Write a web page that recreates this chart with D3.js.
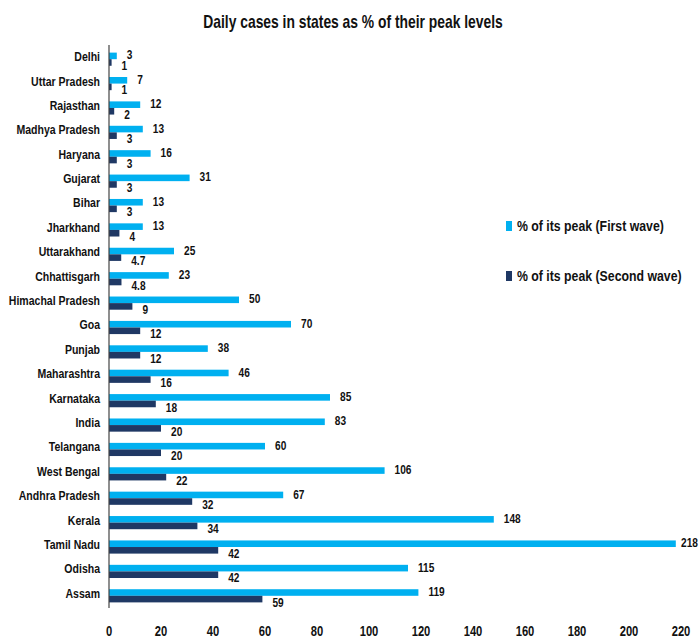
<!DOCTYPE html>
<meta charset="utf-8">
<style>
body { margin: 0; background: #fff; }
text { font-family: "Liberation Sans", Arial, sans-serif; font-weight: bold; fill: #111; }
</style>
<body>
<script src="https://d3js.org/d3.v7.min.js"></script>
<script>

var states = ["Delhi", "Uttar Pradesh", "Rajasthan", "Madhya Pradesh", "Haryana", "Gujarat", "Bihar",
  "Jharkhand", "Uttarakhand", "Chhattisgarh", "Himachal Pradesh", "Goa", "Punjab", "Maharashtra",
  "Karnataka", "India", "Telangana", "West Bengal", "Andhra Pradesh", "Kerala", "Tamil Nadu", "Odisha", "Assam"];
var firstWave = [3, 7, 12, 13, 16, 31, 13, 13, 25, 23, 50, 70, 38, 46, 85, 83, 60, 106, 67, 148, 218, 115, 119];
var secondWave = [1, 1, 2, 3, 3, 3, 3, 4, 4.7, 4.8, 9, 12, 12, 16, 18, 20, 20, 22, 32, 34, 42, 42, 59];
var xTicks = [0, 20, 40, 60, 80, 100, 120, 140, 160, 180, 200, 220];
var seriesNames = ["% of its peak (First wave)", "% of its peak (Second wave)"];
var colors = ["#00b0f0", "#1f3864"];

var width = 700, height = 638;
var margin = {top: 47, left: 109, right: 18, bottom: 30};

var svg = d3.select("body").append("svg")
    .attr("width", width)
    .attr("height", height);

// place a text at (px,py), squeezed horizontally so Arial looks like Calibri
function put(sel, px, py, k) {
  sel.attr("transform", function(d, i) {
    return "translate(" + px(d, i) + "," + py(d, i) + ") scale(" + k + ",1)";
  });
}

// title
svg.append("text")
    .attr("text-anchor", "middle")
    .attr("dy", "0.35em")
    .style("font-size", "18px")
    .text("Daily cases in states as % of their peak levels")
    .call(put, function() { return 353; }, function() { return 22; }, 0.77);

var x = d3.scaleLinear()
    .domain([0, 220])
    .range([margin.left, margin.left + 572]);

var y = d3.scaleBand()
    .domain(states)
    .range([margin.top, 608])
    .paddingInner(0.46)
    .paddingOuter(0.23);

var barH = y.bandwidth() / 2;

var rows = svg.selectAll(".row")
    .data(states)
    .enter().append("g")
    .attr("class", "row")
    .attr("transform", function(d) { return "translate(0," + y(d) + ")"; });

rows.append("rect")
    .attr("x", x(0))
    .attr("y", 0)
    .attr("height", barH)
    .attr("width", function(d, i) { return x(firstWave[i]) - x(0); })
    .attr("fill", colors[0]);

rows.append("rect")
    .attr("x", x(0))
    .attr("y", barH)
    .attr("height", barH)
    .attr("width", function(d, i) { return x(secondWave[i]) - x(0); })
    .attr("fill", colors[1]);

// value labels (kept inside the frame like Excel does)
rows.append("text")
    .attr("dy", "0.35em")
    .style("font-size", "13px")
    .text(function(d, i) { return firstWave[i]; })
    .call(put, function(d, i) { return Math.min(x(firstWave[i]) + 10, width - 19); },
               function() { return barH / 2 - 1; }, 0.78);

rows.append("text")
    .attr("dy", "0.35em")
    .style("font-size", "13px")
    .text(function(d, i) { return secondWave[i]; })
    .call(put, function(d, i) { return x(secondWave[i]) + 10; }, function() { return barH * 1.5 + 3; }, 0.78);

// category labels
rows.append("text")
    .attr("dy", "0.35em")
    .attr("text-anchor", "end")
    .style("font-size", "13px")
    .text(function(d) { return d; })
    .call(put, function() { return margin.left - 9; }, function() { return barH * 0.6; }, 0.81);

// vertical axis line
svg.append("line")
    .attr("x1", x(0)).attr("x2", x(0))
    .attr("y1", margin.top - 2).attr("y2", 608)
    .attr("stroke", "#444")
    .attr("stroke-width", 1.2);

// x tick labels
svg.selectAll(".xtick")
    .data(xTicks)
    .enter().append("text")
    .attr("class", "xtick")
    .attr("dy", "0.35em")
    .attr("text-anchor", "middle")
    .style("font-size", "14px")
    .text(function(d) { return d; })
    .call(put, function(d) { return x(d); }, function() { return 631; }, 0.8);

// legend
var legend = svg.selectAll(".legend")
    .data(seriesNames)
    .enter().append("g")
    .attr("class", "legend")
    .attr("transform", function(d, i) { return "translate(506," + (226 + i * 50) + ")"; });

legend.append("rect")
    .attr("x", 0).attr("y", -5)
    .attr("width", 6).attr("height", 10)
    .attr("fill", function(d, i) { return colors[i]; });

legend.append("text")
    .attr("dy", "0.35em")
    .style("font-size", "15px")
    .text(function(d) { return d; })
    .call(put, function() { return 11; }, function() { return 0; }, 0.82);

</script>
</body>
